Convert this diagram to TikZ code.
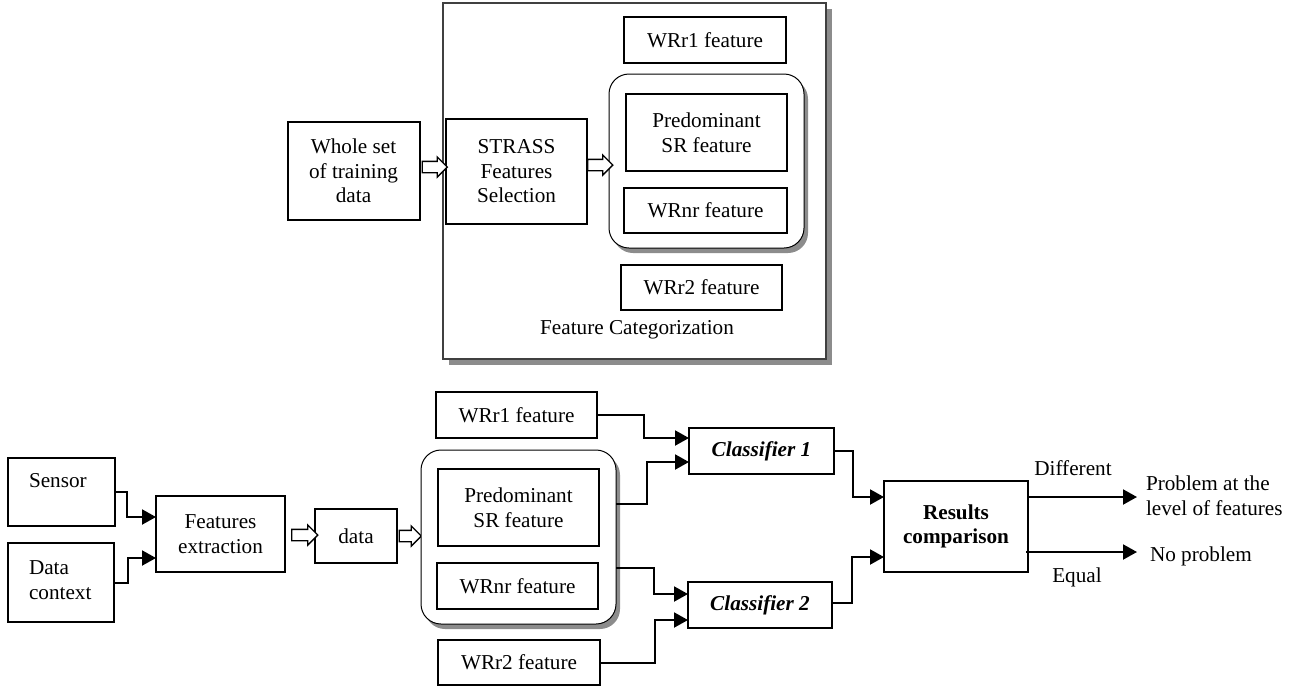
\documentclass[tikz,border=0pt]{standalone}
\usepackage{fontspec}
\setmainfont{Liberation Serif}
\usetikzlibrary{shapes.arrows,shadows,calc,arrows.meta}
\begin{document}
\begin{tikzpicture}[x=1pt,y=-1pt,
  every node/.style={font=\fontsize{21.2}{24.5}\selectfont},
  box/.style={draw, line width=2pt, inner sep=0pt, outer sep=0pt, align=center, fill=white},
  rbox/.style={draw, line width=1pt, rounded corners=20pt, fill=white, inner sep=0pt, outer sep=0pt,
    minimum width=195pt, minimum height=174pt,
    drop shadow={shadow xshift=4pt, shadow yshift=-5pt, fill=gray, opacity=0.9}},
  bigbox/.style={draw=black!75, line width=1.5pt, fill=white, inner sep=0pt, outer sep=0pt,
    drop shadow={shadow xshift=6pt, shadow yshift=-6pt, fill=gray, opacity=0.9}},
  harrow/.style={single arrow, draw, line width=1.3pt, inner sep=5pt, single arrow head extend=4.5pt, fill=white, outer sep=0pt},
  conn/.style={line width=2pt, -{Triangle[length=14pt,width=15pt]}},
  txt/.style={inner sep=0pt, outer sep=0pt}
]
\useasboundingbox (0,0) rectangle (1292,686);

% ---------------- top part ----------------
\node[bigbox, minimum width=383pt, minimum height=356pt] (cat) at (634.5,181) {};
\node[txt] (cattxt) at (637,330) {Feature Categorization};

\node[box, minimum width=132pt, minimum height=98pt] (whole) at (353.5,171) {Whole set\\of training\\data};
\node[box, minimum width=141pt, minimum height=105pt] (strass) at (516.5,171.5) {STRASS\\Features\\Selection};
\node[box, minimum width=162pt, minimum height=46pt] (wr1t) at (705,40) {WRr1 feature};
\node[rbox] (roundt) at (706.5,161) {};
\node[box, minimum width=161pt, minimum height=77pt] (predt) at (706.5,132.5) {Predominant\\SR feature};
\node[box, minimum width=163pt, minimum height=45pt] (wrnrt) at (705.5,210.5) {WRnr feature};
\node[box, minimum width=161pt, minimum height=45pt] (wr2t) at (701.5,287.5) {WRr2 feature};

\node[harrow, minimum height=25pt] (ha1) at (432,167) {};
\node[harrow, minimum height=25pt] (ha2) at (597.5,165) {};

% ---------------- bottom part ----------------
\node[box, minimum width=107pt, minimum height=68pt] (sensor) at (61.5,492) {};
\node[txt, anchor=west] (sensortxt) at (29,481) {Sensor};
\node[box, minimum width=106pt, minimum height=79pt] (dc) at (61,582.5) {};
\node[txt, anchor=west, align=left] (dctxt) at (29,580) {Data\\context};
\node[box, minimum width=129pt, minimum height=76pt] (fe) at (220.5,534) {Features\\extraction};
\node[box, minimum width=82pt, minimum height=54pt] (data) at (356,536) {data};

\node[harrow, minimum height=26pt] (ha3) at (302,535) {};
\node[harrow, minimum height=22pt] (ha4) at (407.5,536) {};

\node[rbox] (roundb) at (518.5,537) {};
\node[box, minimum width=161pt, minimum height=77pt] (predb) at (518.5,507.5) {Predominant\\SR feature};
\node[box, minimum width=161pt, minimum height=46pt] (wrnrb) at (517.5,586) {WRnr feature};
\node[box, minimum width=161pt, minimum height=46pt] (wr1b) at (516.5,415) {WRr1 feature};
\node[box, minimum width=162pt, minimum height=45pt] (wr2b) at (519,662.5) {WRr2 feature};

\node[box, minimum width=145pt, minimum height=46pt, font=\fontsize{21.2}{24.5}\selectfont\bfseries\itshape] (c1) at (761.5,451) {Classifier 1};
\node[box, minimum width=144pt, minimum height=46pt, font=\fontsize{21.2}{24.5}\selectfont\bfseries\itshape] (c2) at (760,605) {Classifier 2};
\node[box, minimum width=144pt, minimum height=91pt, font=\fontsize{21.2}{24.5}\selectfont\bfseries] (res) at (956,526.5) {Results\\comparison};

\node[txt, anchor=west, align=left] (prob) at (1146,495.5) {Problem at the\\level of features};
\node[txt, anchor=west] (noprob) at (1150,556) {No problem};
\node[txt] (diff) at (1073,468) {Different};
\node[txt] (equal) at (1077,577) {Equal};

% connectors
\draw[conn] (sensor.east) -- ++(12,0) |- ($(fe.west)+(0,-17)$);
\draw[conn] (dc.east) -- ++(14,0) |- ($(fe.west)+(0,24)$);
\draw[conn] (wr1b.east) -- ++(47,0) |- ($(c1.west)+(0,-13)$);
\draw[conn] ($(roundb.east)+(0,-33)$) -- ++(31,0) |- ($(c1.west)+(0,11)$);
\draw[conn] ($(roundb.east)+(0,31)$) -- ++(38,0) |- ($(c2.west)+(0,-11)$);
\draw[conn] (wr2b.east) -- ++(55,0) |- ($(c2.west)+(0,15)$);
\draw[conn] (c1.east) -- ++(19,0) |- ($(res.west)+(0,-29.5)$);
\draw[conn] ($(c2.east)+(0,-2)$) -- ++(20,0) |- ($(res.west)+(0,30.5)$);
\draw[conn] ($(res.east)+(0,-29.5)$) -- ($(prob.west)+(-9,1.5)$);
\draw[conn] ($(res.east)+(-2,25.5)$) -- ($(noprob.west)+(-13,-4)$);
\end{tikzpicture}
\end{document}
